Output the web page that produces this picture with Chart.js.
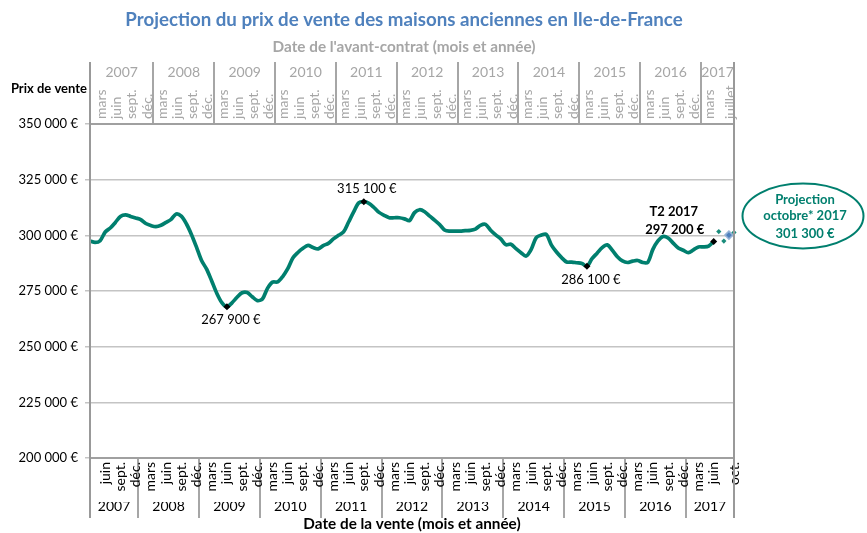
<!DOCTYPE html>
<html><head><meta charset="utf-8">
<script src="https://cdn.jsdelivr.net/npm/chart.js@4.4.0/dist/chart.umd.min.js"></script>
<style>html,body{margin:0;padding:0;background:#fff;overflow:hidden}canvas{display:block}</style>
</head><body>
<canvas id="c" width="867" height="533"></canvas>
<script>
// ---------- DATA ----------
const monthNames = ['janv.','févr.','mars','avr.','mai','juin','juillet','août','sept.','oct.','nov.','déc.'];
const firstSaleYear = 2007, firstSaleMonth = 2;   // mars 2007
const contractLagMonths = 3;                        // avant-contrat = vente - 3 mois
const yearLabels = [2007,2008,2009,2010,2011,2012,2013,2014,2015,2016,2017];
const yTickValues = [200000,225000,250000,275000,300000,325000,350000];

// prix de vente observé, mars 2007 -> juin 2017 (mensuel)
const salePrice = [
  297500,296800,297600,301500,303300,305800,308500,309200,308500,307800,
  307100,305300,304400,303900,304500,305800,307200,309600,308600,305200,300400,294700,
  288700,284800,279500,274000,269800,267900,269700,272200,274200,274300,272400,270700,
  271400,276200,279000,279100,281500,285000,289800,292300,294200,295500,294500,293900,
  295400,296400,298400,300000,301500,306000,310500,314600,315100,314400,312500,310300,
  309000,307900,307900,307900,307400,306600,310200,311500,310600,308600,306700,304700,
  302300,301900,301900,301900,302100,302200,302800,304500,304900,302300,300200,298400,
  295800,296000,294000,292200,290700,293700,299000,300100,300400,295600,292500,290000,
  288000,288000,287700,287400,286100,289500,292000,294500,295700,293300,290400,288500,
  287800,288400,288700,287800,287900,293700,297500,299500,298800,296500,294300,293300,
  292200,293500,294800,294800,295200,297200
];
// projection juillet -> octobre 2017
const projectionPrice = [301700, 297400, 300100, 301300];
const annotatedIdx = [27, 54, 98, 123];
const projHighlightIdx = 2; // septembre (losange bleu)

// ---------- CATEGORIES ----------
const N = salePrice.length + projectionPrice.length;
function monthAt(startY, startM, k){ const t = startY*12 + startM + k; return {y: Math.floor(t/12), m: t % 12}; }
const saleCats = [], topCats = [];
for (let k = 0; k < N; k++) {
  saleCats.push(monthAt(firstSaleYear, firstSaleMonth, k));
  topCats.push(monthAt(firstSaleYear, firstSaleMonth - contractLagMonths, k));
}
const saleLabels = saleCats.map(c => monthNames[c.m]);
const topLabels = topCats.map(c => monthNames[c.m]);
function showLabel(i, cats){ if (i === N-1) return true; if (i === 0 || i >= N-2) return false; return cats[i].m % 3 === 2; }
function isSep(cats, i){ return i !== undefined && i > 0 && cats[i].m === 0 && cats[i].y > yearLabels[0]; }
function yearMids(cats){
  return yearLabels.map((Y, j) => {
    const idx = cats.map((c,i)=>c.y===Y?i:-1).filter(i=>i>=0);
    const s = j === 0 ? 0 : idx[0] - 0.5;
    const e = j === yearLabels.length-1 ? N-1 : idx[idx.length-1] + 0.5;
    return (s + e) / 2;
  });
}
const saleYearMids = yearMids(saleCats);
const topYearMids = yearMids(topCats);
const fmt = v => String(Math.round(v)).replace(/\B(?=(\d{3})+(?!\d))/g, ' ') + ' €';

// ---------- STYLE ----------
const FONT = 'Lato, "Liberation Sans", sans-serif';
const TEAL = '#007F6E';
const GRAYTXT = '#A6A6A6';
const SEP = '#A6A6A6';
const MONTH_FS = 14;
Chart.defaults.font.family = FONT;

const decor = {
  id: 'decor',
  afterDraw(chart){
    const {ctx, chartArea, scales} = chart;
    const xs = scales.x, ys = scales.y;
    ctx.save();
    // full-height edge lines
    ctx.strokeStyle = '#999'; ctx.lineWidth = 2;
    const top = scales.xTop.bottom - 62, bot = scales.x.top + 60;
    [chartArea.left, chartArea.right].forEach(x => { ctx.beginPath(); ctx.moveTo(x, top); ctx.lineTo(x, bot); ctx.stroke(); });
    // "Prix de vente"
    ctx.fillStyle = '#000'; ctx.font = 'bold 13px ' + FONT; ctx.textAlign = 'right'; ctx.textBaseline = 'middle';
    ctx.fillText('Prix de vente', chartArea.left - 3, chartArea.top - 35);
    // point annotations
    const place = [{dx:4, dy:13}, {dx:3, dy:-13}, {dx:4, dy:14}, {dx:-39, dy:-12, head:'T2 2017', bold:true}];
    ctx.textAlign = 'center';
    annotatedIdx.forEach((k, j) => {
      const px = xs.getPixelForValue(k), py = ys.getPixelForValue(salePrice[k]);
      const p = place[j];
      ctx.font = (p.bold ? 'bold ' : '') + '13px ' + FONT;
      ctx.fillText(fmt(salePrice[k]), px + p.dx, py + p.dy);
      if (p.head) ctx.fillText(p.head, px + p.dx - 1, py + p.dy - 18);
    });
    // projection ellipse
    const cx = chartArea.right + 69, cy = chartArea.top + 92;
    ctx.strokeStyle = TEAL; ctx.lineWidth = 2;
    ctx.beginPath(); ctx.ellipse(cx, cy, 60.5, 32.5, 0, 0, Math.PI*2); ctx.stroke();
    ctx.fillStyle = TEAL; ctx.font = 'bold 13px ' + FONT;
    ctx.fillText('Projection', cx + 2, cy - 16.5);
    ctx.fillText('octobre* 2017', cx + 2, cy);
    ctx.fillText(fmt(projectionPrice[projectionPrice.length-1]), cx + 2, cy + 17.5);
    ctx.restore();
  }
};

new Chart(document.getElementById('c'), {
  type: 'line',
  data: {
    labels: saleLabels,
    datasets: [
      {
        data: salePrice, xAxisID: 'x', yAxisID: 'y',
        borderColor: TEAL, borderWidth: 3.7, tension: 0.3, fill: false,
        pointStyle: 'rectRot',
        pointRadius: c => annotatedIdx.includes(c.dataIndex) ? 3.5 : 0,
        pointBackgroundColor: '#000', pointBorderColor: '#000', pointBorderWidth: 0,
        order: 2
      },
      {
        data: new Array(salePrice.length).fill(null).concat(projectionPrice), xAxisID: 'x', yAxisID: 'y',
        showLine: false, pointStyle: 'rectRot',
        pointRadius: c => c.dataIndex === salePrice.length + projHighlightIdx ? 4 : 2.6,
        pointBackgroundColor: c => c.dataIndex === salePrice.length + projHighlightIdx ? '#4F81BD' : '#1A8C7B',
        pointBorderColor: c => c.dataIndex === salePrice.length + projHighlightIdx ? '#95B3D7' : '#1A8C7B',
        pointBorderWidth: c => c.dataIndex === salePrice.length + projHighlightIdx ? 1.5 : 0,
        order: 1
      }
    ]
  },
  options: {
    responsive: false, animation: false,
    layout: { padding: { left: 0, right: 59, top: 0, bottom: 0 } },
    plugins: {
      legend: { display: false }, tooltip: { enabled: false },
      title: { display: true, text: 'Projection du prix de vente des maisons anciennes en Ile-de-France',
        color: '#4F81BD', font: { size: 18.7, weight: 'bold' }, padding: { top: 8.8, bottom: 6.6 } },
      subtitle: { display: true, text: "Date de l'avant-contrat (mois et année)",
        color: GRAYTXT, font: { size: 15.3, weight: 'bold' }, padding: { top: 0, bottom: 3.8 } }
    },
    scales: {
      x: {
        type: 'category', position: 'bottom', weight: 0, offset: false,
        grid: { display: true, drawOnChartArea: false, drawTicks: true, tickLength: 60, offset: true, lineWidth: 2,
          color: c => isSep(saleCats, c.index) ? SEP : 'rgba(0,0,0,0)' },
        border: { display: true, color: '#A0A0A0', width: 2 },
        ticks: { autoSkip: false, minRotation: 90, maxRotation: 90, padding: -56, color: '#000', font: { size: MONTH_FS },
          callback: (v, i) => showLabel(i, saleCats) ? saleLabels[i] : '' },
        afterFit: s => { s.height = 44; }
      },
      xYear: {
        type: 'linear', position: 'bottom', weight: 1, min: 0, max: N - 1,
        grid: { display: false, drawTicks: false, tickLength: 0 }, border: { display: false },
        afterBuildTicks: s => { s.ticks = saleYearMids.map(v => ({ value: v })); },
        ticks: { autoSkip: false, maxRotation: 0, padding: -3.5, color: '#000', font: { size: 14 },
          callback: (v, i) => String(yearLabels[i]) },
        title: { display: true, text: 'Date de la vente (mois et année)', color: '#000',
          font: { size: 15.3, weight: 'bold' }, padding: { top: 0, bottom: 0 } },
        afterFit: s => { s.height = 31; }
      },
      xTop: {
        type: 'category', position: 'top', weight: 0, offset: false, labels: topLabels,
        grid: { display: true, drawOnChartArea: false, drawTicks: true, tickLength: 62, offset: true, lineWidth: 2,
          color: c => isSep(topCats, c.index) ? SEP : 'rgba(0,0,0,0)' },
        border: { display: true, color: '#A0A0A0', width: 2 },
        ticks: { autoSkip: false, minRotation: 90, maxRotation: 90, padding: -57, labelOffset: 13,
          color: GRAYTXT, font: { size: MONTH_FS },
          callback: (v, i) => showLabel(i, topCats) ? topLabels[i] : '' },
        afterFit: s => { s.height = 42; }
      },
      xTopYear: {
        type: 'linear', position: 'top', weight: 1, min: 0, max: N - 1,
        grid: { display: false, drawTicks: false, tickLength: 0 }, border: { display: false },
        afterBuildTicks: s => { s.ticks = topYearMids.map(v => ({ value: v })); },
        ticks: { autoSkip: false, maxRotation: 0, padding: 1.6, color: GRAYTXT, font: { size: 14 },
          callback: (v, i) => String(yearLabels[i]) },
        afterFit: s => { s.height = 22; }
      },
      y: {
        position: 'left', min: 200000, max: 350000,
        afterBuildTicks: s => { s.ticks = yTickValues.map(v => ({ value: v })); },
        ticks: { padding: 7, color: '#000', font: { size: 13 }, callback: v => fmt(v) },
        grid: { color: '#C4C4C4', lineWidth: 1.5, drawTicks: true, tickLength: 5 },
        border: { display: true, color: '#999', width: 2 },
        afterFit: s => { s.width = 90; }
      },
      yR: {
        position: 'right', min: 200000, max: 350000,
        ticks: { display: false }, grid: { display: false, drawTicks: false },
        border: { display: true, color: '#999', width: 2 },
        afterFit: s => { s.width = 74; }
      }
    }
  },
  plugins: [decor]
});
</script>
</body></html>
